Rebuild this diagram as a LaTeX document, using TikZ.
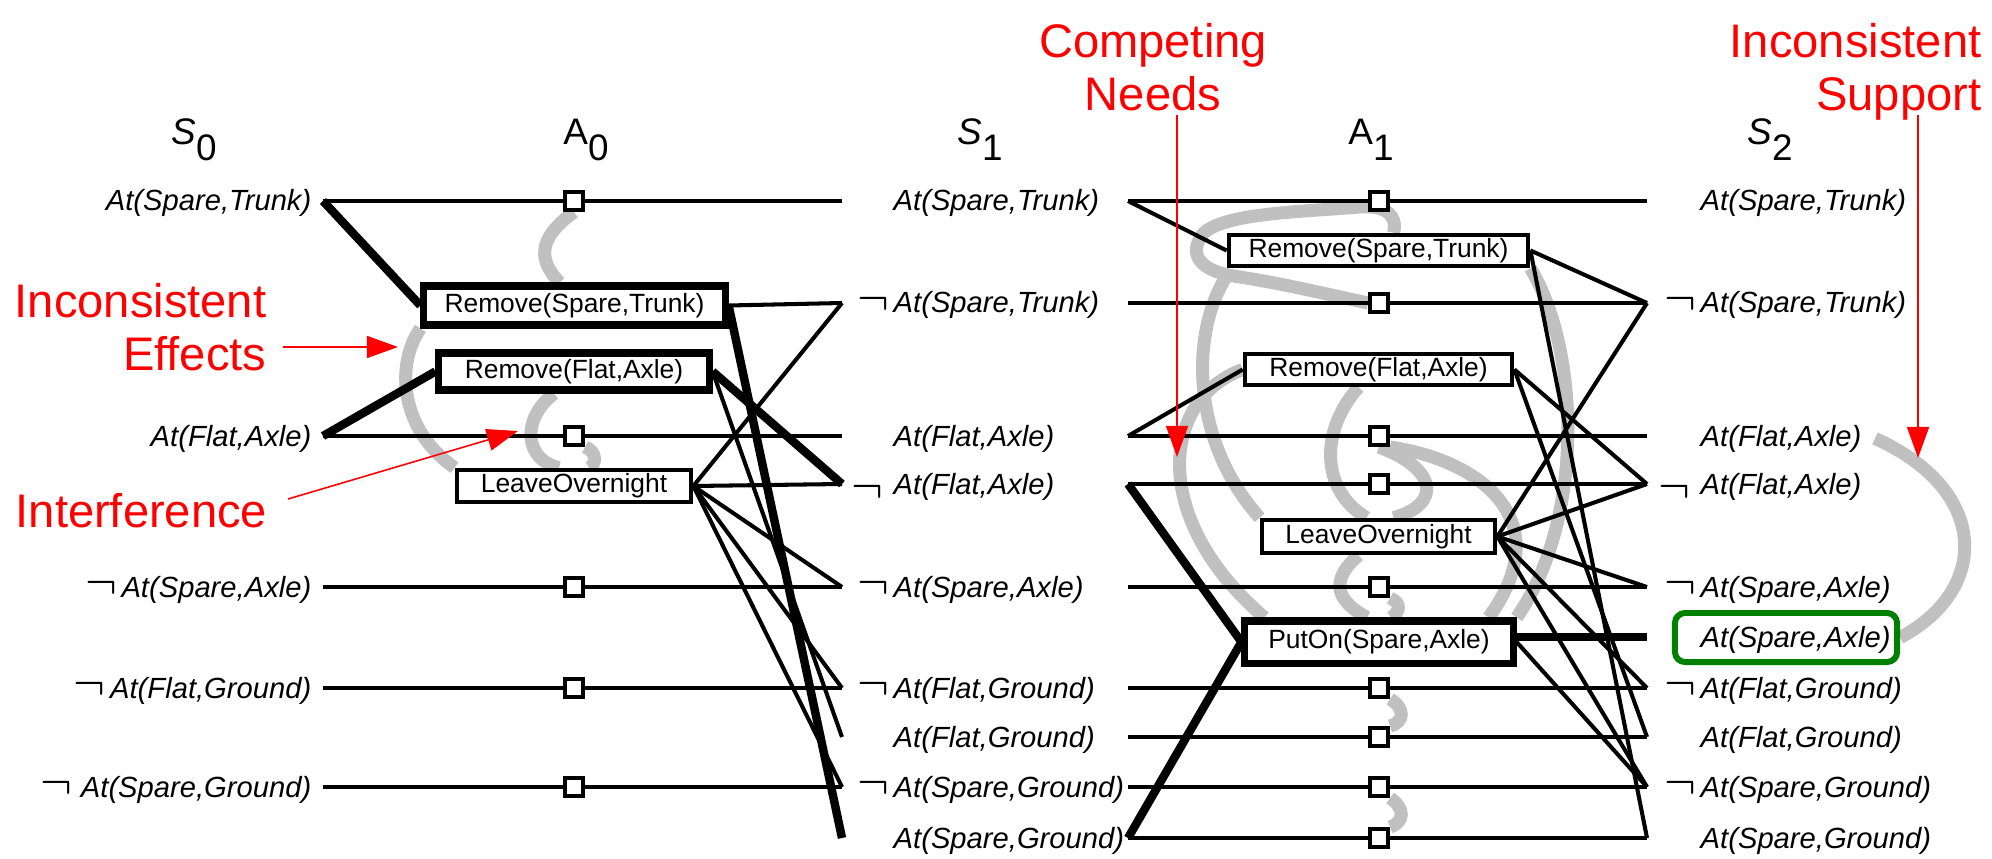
\documentclass[tikz,border=0pt]{standalone}
\usepackage{fontspec}
\setmainfont{Liberation Sans}
\usetikzlibrary{arrows.meta,backgrounds}

\definecolor{mutexgray}{RGB}{192,192,192}
\definecolor{okgreen}{RGB}{0,128,0}

% negation sign in front of a literal
\newcommand{\nt}{\llap{\raisebox{-0.05em}{\scalebox{1.6}[1.7]{$\neg$}}\kern0.15em}}
\newcommand{\ntlow}{\llap{\raisebox{-0.3em}{\scalebox{1.6}[1.7]{$\neg$}}\kern0.35em}}
% level heading with a lowered index
\newcommand{\colhead}[2]{#1\raisebox{-0.15cm}{#2}}

\tikzset{
  lit/.style={font=\fontsize{8.3}{10}\selectfont\itshape, inner sep=0pt},
  head/.style={font=\fontsize{10.5}{12}\selectfont, inner sep=0pt, anchor=base},
  act/.style={draw, fill=white, line width=1.3pt, inner sep=0pt,
    font=\fontsize{7.5}{8}\selectfont},
  keyact/.style={act, line width=2pt},
  pers/.style={draw, fill=white, line width=1.15pt, minimum size=0.18cm, inner sep=0pt},
  link/.style={line width=1.15pt},
  keylink/.style={line width=2.4pt},
  mutex/.style={draw=mutexgray, line width=3.7pt},
  note/.style={text=red, font=\fontsize{13.4}{15.1}\selectfont, inner sep=0pt},
  pointer/.style={red, line width=0.45pt, -{Triangle[length=0.31cm,width=0.22cm]}},
  support/.style={draw=okgreen, line width=1.7pt, rounded corners=0.1cm}
}

\begin{document}
\begin{tikzpicture}[x=0.01cm, y=-0.01cm]
\useasboundingbox (0,0) rectangle (1992,858);

% level headings
\node[head] (h-s0) at (194,145) {\colhead{\textit{S}}{0}};
\node[head] (h-a0) at (586,145) {\colhead{A}{0}};
\node[head] (h-s1) at (980,145) {\colhead{\textit{S}}{1}};
\node[head] (h-a1) at (1371,145) {\colhead{A}{1}};
\node[head] (h-s2) at (1770,145) {\colhead{\textit{S}}{2}};

% line ends of the literal rows
\foreach \r/\y in {1/201,2/303,3/436,4/484,5/587,6/688,7/737,8/787,9/838}{
  \coordinate (s0-\r) at (323,\y);
  \coordinate (s1in-\r) at (842,\y);
  \coordinate (s1out-\r) at (1128,\y);
  \coordinate (s2-\r) at (1647,\y);
}
\coordinate (s2-x) at (1647,637);

% literals of S0
\node[lit, anchor=base east] (l0-1) at (312,211) {At(Spare,Trunk)};
\node[lit, anchor=base east] (l0-3) at (312,446) {At(Flat,Axle)};
\node[lit, anchor=base east] (l0-5) at (312,597) {\nt At(Spare,Axle)};
\node[lit, anchor=base east] (l0-6) at (312,698) {\nt At(Flat,Ground)};
\node[lit, anchor=base east] (l0-8) at (312,797) {\nt\kern0.15em At(Spare,Ground)};

% literals of S1 and S2
\foreach \r/\y/\lbl in {1/201/{At(Spare,Trunk)}, 2/303/{\nt At(Spare,Trunk)},
    3/436/{At(Flat,Axle)}, 4/484/{\ntlow At(Flat,Axle)}, 5/587/{\nt At(Spare,Axle)},
    6/688/{\nt At(Flat,Ground)}, 7/737/{At(Flat,Ground)},
    8/787/{\nt At(Spare,Ground)}, 9/838/{At(Spare,Ground)}}{
  \node[lit, anchor=base west] (l1-\r) at (893,\y+10) {\lbl};
  \node[lit, anchor=base west] (l2-\r) at (1700,\y+10) {\lbl};
}
\node[lit, anchor=base west] (l2-x) at (1700,647) {At(Spare,Axle)};
\node[support, minimum width=2.22cm, minimum height=0.49cm] (okbox) at (1786,637.5) {};

% actions
\node[keyact, minimum width=3.01cm, minimum height=0.39cm] (rst0) at (574.5,305.5) {Remove(Spare,Trunk)};
\node[keyact, minimum width=2.70cm, minimum height=0.37cm] (rfa0) at (574,371.5) {Remove(Flat,Axle)};
\node[act, minimum width=2.34cm, minimum height=0.32cm] (lo0) at (574,486) {LeaveOvernight};
\node[act, minimum width=2.99cm, minimum height=0.31cm] (rst1) at (1378.5,250.5) {Remove(Spare,Trunk)};
\node[act, minimum width=2.67cm, minimum height=0.31cm] (rfa1) at (1378.5,369.5) {Remove(Flat,Axle)};
\node[act, minimum width=2.33cm, minimum height=0.33cm] (lo1) at (1378.5,536.5) {LeaveOvernight};
\node[keyact, minimum width=2.68cm, minimum height=0.42cm] (put1) at (1379,642) {PutOn(Spare,Axle)};

% persistence actions
\foreach \r/\y in {1/201,3/436,5/587,6/688,8/787}
  \node[pers] (p0-\r) at (574,\y) {};
\foreach \r/\y in {1/201,2/303,3/436,4/484,5/587,6/688,7/737,8/787,9/838}
  \node[pers] (p1-\r) at (1379,\y) {};

\foreach \r in {1,3,5,6,8}
  \draw[link] (s0-\r) -- (p0-\r) -- (s1in-\r);
\foreach \r in {1,...,9}
  \draw[link] (s1out-\r) -- (p1-\r) -- (s2-\r);

% preconditions and effects, level 0
\draw[keylink] (s0-1) -- (rst0.west);
\draw[keylink] (s0-3) -- (rfa0.west);
\draw[link] (rst0.east) -- (s1in-2);
\draw[keylink] (rst0.east) -- (s1in-9);
\draw[keylink] (rfa0.east) -- (s1in-4);
\draw[link] (rfa0.east) -- (s1in-7);
\foreach \r in {2,4,5,6,8}
  \draw[link] (lo0.east) -- (s1in-\r);

% preconditions and effects, level 1
\draw[link] (s1out-1) -- (rst1.west);
\draw[link] (s1out-3) -- (rfa1.west);
\draw[keylink] (s1out-4) -- (put1.west);
\draw[keylink] (s1out-9) -- (put1.west);
\draw[link] (rst1.east) -- (s2-2);
\draw[link] (rst1.east) -- (s2-9);
\draw[link] (rfa1.east) -- (s2-4);
\draw[link] (rfa1.east) -- (s2-7);
\foreach \r in {2,4,5,6,8}
  \draw[link] (lo1.east) -- (s2-\r);
\draw[keylink] (put1.east |- s2-x) -- (s2-x);
\draw[link] (put1.east) -- (s2-8);

% mutex links
\begin{scope}[on background layer]
  \draw[mutex] (p0-1.south) .. controls (535,240) and (540,262) .. ([xshift=-0.15cm]rst0.north);
  \draw[mutex] (rst0.south west) .. controls (395,365) and (400,430) .. (lo0.north west);
  \draw[mutex] ([xshift=-0.2cm]rfa0.south) .. controls (520,420) and (525,460) .. ([xshift=-0.15cm]lo0.north);
  \draw[mutex] (p0-3.south east) .. controls (598,452) and (596,465) .. ([xshift=0.15cm]lo0.north);

  \draw[mutex] ([xshift=0.15cm]rst1.north) .. controls (1398,215) and (1385,205) .. (1360,207)
    .. controls (1300,212) and (1220,213) .. (1202,235)
    .. controls (1188,255) and (1200,272) .. (1240,277)
    .. controls (1290,285) and (1330,295) .. (p1-2.west);
  \draw[mutex] (1228,274) .. controls (1190,330) and (1190,440) .. (lo1.north west);
  \draw[mutex] (rfa1.west) .. controls (1160,400) and (1150,520) .. ([xshift=0.23cm]put1.north west);
  \draw[mutex] (rst1.south east) .. controls (1580,350) and (1585,520) .. (put1.north east);
  \draw[mutex] (p1-3.south east) .. controls (1480,460) and (1560,520) .. ([xshift=-0.28cm]put1.north east);
  \draw[mutex] ([xshift=-0.2cm]rfa1.south) .. controls (1320,430) and (1320,490) .. ([xshift=-0.12cm]lo1.north);
  \draw[mutex] (p1-3.south) .. controls (1440,470) and (1440,505) .. ([xshift=0.15cm]lo1.north);
  \draw[mutex] ([xshift=-0.2cm]lo1.south) .. controls (1330,580) and (1335,600) .. ([xshift=-0.12cm]put1.north);
  \draw[mutex] (p1-5.south east) .. controls (1402,603) and (1400,612) .. ([xshift=0.12cm]put1.north);
  \draw[mutex] (p1-6.south east) .. controls (1405,708) and (1405,722) .. (p1-7.north east);
  \draw[mutex] (p1-8.south east) .. controls (1405,808) and (1405,822) .. (p1-9.north east);

  \draw[mutex] ([xshift=0.13cm]l2-3.east) .. controls (1990,490) and (1990,590) .. (okbox.east);
\end{scope}

% the kinds of mutex
\node[note, anchor=north east, align=right] (n-eff) at (267,283) {Inconsistent\\Effects};
\node[note, anchor=base west] (n-int) at (15,527) {Interference};
\node[note, anchor=north, align=center] (n-cn) at (1153,23) {Competing\\Needs};
\node[note, anchor=north east, align=right] (n-sup) at (1982,23) {Inconsistent\\Support};

\coordinate (eff-from) at (283,347);
\coordinate (eff-to) at (398,347);
\coordinate (int-from) at (288,499);
\coordinate (int-to) at (518,431);
\coordinate (cn-from) at (1177,115);
\coordinate (cn-to) at (1177,457);
\coordinate (sup-from) at (1918,115);
\coordinate (sup-to) at (1918,458);
\draw[pointer] (eff-from) -- (eff-to);
\draw[pointer] (int-from) -- (int-to);
\draw[pointer] (cn-from) -- (cn-to);
\draw[pointer] (sup-from) -- (sup-to);

\end{tikzpicture}
\end{document}
